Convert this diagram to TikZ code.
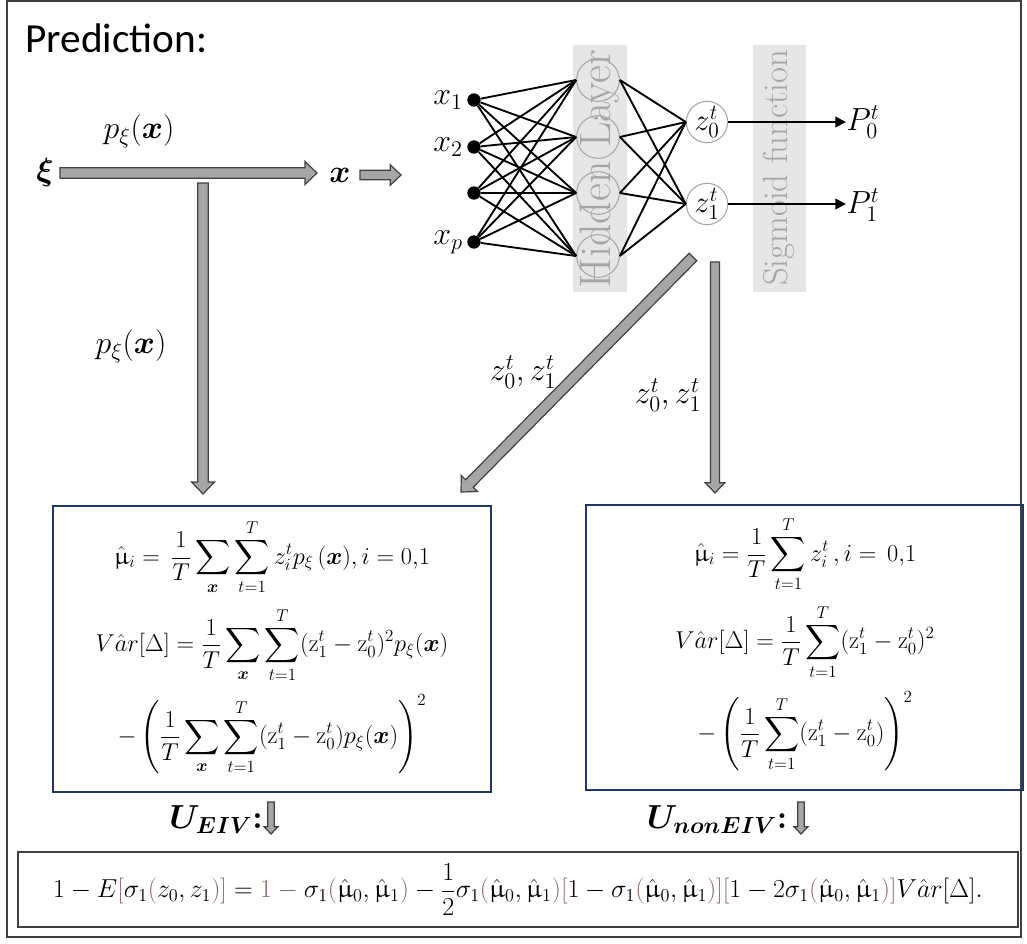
\RequirePackage{fix-cm}
\documentclass[tikz,border=0pt]{standalone}
\usepackage{amsmath,amssymb,bm,upgreek}
\usepackage{fontspec}
\newfontfamily\calib{Carlito}
\usepackage{tikz}
\usetikzlibrary{arrows.meta,calc,positioning}
\definecolor{boxblue}{RGB}{31,56,100}
\definecolor{arrgray}{RGB}{166,166,166}
\definecolor{arrline}{RGB}{64,64,64}
\definecolor{layergray}{RGB}{230,230,230}
\definecolor{textgray}{RGB}{165,165,165}
\definecolor{eqbrown}{RGB}{135,105,98}
\newcommand{\bc}{\color{eqbrown}}
% thick grey block arrow: [scale]{tail}{tip}
\newcommand{\fatarrow}[3][1]{%
  \coordinate (fa) at ($(#3)!#1*9pt!(#2)$);
  \filldraw[fatarr] ($(#2)!#1*4pt!90:(#3)$) -- ($(fa)!#1*4pt!90:(#3)$) -- ($(fa)!#1*8.6pt!90:(#3)$) -- (#3)
    -- ($(fa)!#1*8.6pt!-90:(#3)$) -- ($(fa)!#1*4pt!-90:(#3)$) -- ($(#2)!#1*4pt!-90:(#3)$) -- cycle;}

\begin{document}
\begin{tikzpicture}[x=.75pt,y=-.75pt,
    fatarr/.style={fill=arrgray,draw=arrline,line width=.9pt,line join=miter},
    mathlbl/.style={font=\fontsize{24}{28}\selectfont,inner sep=0pt},
    innode/.style={circle,fill=black,minimum size=10pt,inner sep=0pt},
    hidnode/.style={circle,draw=gray!70,line width=.8pt,minimum size=32pt,inner sep=0pt},
    outnode/.style={circle,draw=gray!70,line width=.8pt,minimum size=31pt,inner sep=0pt,font=\fontsize{23}{26}\selectfont},
    netedge/.style={line width=1.4pt},
    eqbox/.style={draw=boxblue,line width=1.5pt,inner sep=0pt},
    eqtext/.style={align=center,inner sep=0pt,font=\fontsize{18.3}{22}\selectfont},
    ulbl/.style={font=\fontsize{25}{30}\selectfont,inner sep=0pt}]
  \useasboundingbox (0,0) rectangle (1027,943);
  \draw[arrline,line width=1.5pt] (7,1) rectangle (1021,937);
  \node[anchor=base west,inner sep=0pt,font=\calib\fontsize{31}{36}\selectfont] (title) at (25,52) {Prediction:};

  % input distribution
  \node[mathlbl] (xi) at (45,172) {$\bm{\xi}$};
  \node[mathlbl] (x) at (340,175) {$\bm{x}$};
  \node[mathlbl] (pxa) at (139,131) {$p_\xi(\bm{x})$};
  \node[mathlbl] (pxb) at (131,346) {$p_\xi(\bm{x})$};
  \coordinate (xis) at (60,173);  \coordinate (xie) at (317,173);
  \coordinate (pxs) at (203,183); \coordinate (pxe) at (203,494);
  \coordinate (xs) at (360,175);  \coordinate (xe) at (401,175);
  \fatarrow{xis}{xie}
  \fatarrow{pxs}{pxe}
  \fatarrow[.9]{xs}{xe}

  % network
  \fill[layergray] (573,45) rectangle (627,292);
  \fill[layergray] (753,45) rectangle (806,292);
  \node[rotate=90,text=textgray,font=\fontsize{33}{34}\selectfont] (hlbl) at (600,169) {Hidden Layer};
  \node[rotate=90,text=textgray,font=\fontsize{26}{28}\selectfont] (slbl) at (779,168) {Sigmoid function};
  \foreach \i/\y in {1/100,2/147,3/193,4/242} \node[innode] (in\i) at (474,\y) {};
  \foreach \j/\y in {1/80,2/137,3/193,4/256} \node[hidnode] (h\j) at (598,\y) {};
  \node[outnode] (o0) at (707,122) {$z_0^t$};
  \node[outnode] (o1) at (707,204) {$z_1^t$};
  \node[mathlbl,left=3pt of in1] (lx1) {$x_1$};
  \node[mathlbl,left=3pt of in2] (lx2) {$x_2$};
  \node[mathlbl,left=3pt of in4] (lxp) {$x_p$};
  \foreach \i in {1,...,4} \foreach \j in {1,...,4} \draw[netedge] (in\i) -- (h\j.west);
  \foreach \j in {1,...,4} \foreach \k in {0,1} \draw[netedge] (h\j.east) -- (o\k.west);
  \node[mathlbl,anchor=west] (p0) at (846,122) {$P_0^t$};
  \node[mathlbl,anchor=west] (p1) at (846,205) {$P_1^t$};
  \draw[netedge,-{Triangle[length=8pt,width=8pt]}] (o0) -- (o0 -| p0.west);
  \draw[netedge,-{Triangle[length=8pt,width=8pt]}] (o1) -- (o1 -| p1.west);

  % outputs to the estimators
  \coordinate (da) at (693,257); \coordinate (db) at (461,492);
  \coordinate (va) at (715,262); \coordinate (vb) at (715,493);
  \fatarrow{da}{db}
  \fatarrow[.85]{va}{vb}
  \node[mathlbl] (zl) at (523,372) {$z_0^t,z_1^t$};
  \node[mathlbl] (zr) at (668,395) {$z_0^t,z_1^t$};

  % estimator boxes
  \node[eqbox,minimum width=328.5pt,minimum height=214.5pt] (lbox) at (272,649) {};
  \node[eqbox,minimum width=327.8pt,minimum height=213.8pt] (rbox) at (804.5,647.5) {};
  \node[eqtext] (ltxt) at (272,647) {%
    $\displaystyle \hat{\upmu}_i =\, \frac{1}{T}\sum_{\bm{x}}\sum_{t=1}^{T} z_i^t p_\xi\,(\bm{x}), i = 0{,}1$\\[8pt]
    $\displaystyle V\hat{a}r[\Delta] = \frac{1}{T}\sum_{\bm{x}}\sum_{t=1}^{T}(\mathrm{z}_1^t-\mathrm{z}_0^t)^2p_\xi(\bm{x})$\\[8pt]
    $\displaystyle -\left(\frac{1}{T}\sum_{\bm{x}}\sum_{t=1}^{T}(\mathrm{z}_1^t-\mathrm{z}_0^t)p_\xi(\bm{x})\right)^2$};
  \node[eqtext] (rtxt) at (805,644) {%
    $\displaystyle \hat{\upmu}_i = \frac{1}{T}\sum_{t=1}^{T} z_i^t\,, i =\, 0{,}1$\\[8pt]
    $\displaystyle V\hat{a}r[\Delta] = \frac{1}{T}\sum_{t=1}^{T}(\mathrm{z}_1^t-\mathrm{z}_0^t)^2$\\[8pt]
    $\displaystyle -\left(\frac{1}{T}\sum_{t=1}^{T}(\mathrm{z}_1^t-\mathrm{z}_0^t)\right)^2$};

  % utilities
  \node[ulbl] (ueiv) at (216,820) {$\bm{U_{EIV}}$\textbf{:}};
  \node[ulbl] (unon) at (717,820) {$\bm{U_{nonEIV}}$\textbf{:}};
  \coordinate (ea) at (271,802); \coordinate (eb) at (271,834);
  \coordinate (na) at (801,802); \coordinate (nb) at (801,834);
  \fatarrow[.6]{ea}{eb}
  \fatarrow[.6]{na}{nb}
  \node[draw=arrline,line width=1.2pt,minimum width=750pt,minimum height=56pt,inner sep=0pt] (fbox) at (518,889.5) {};
  \node[inner sep=0pt,font=\fontsize{19.5}{23}\selectfont] (ftxt) at (518,889.5) {%
    $1-E{\bc[}\sigma_1{\bc(}z_0,z_1{\bc)]} = {\bc 1-{}}\sigma_1{\bc(}\hat{\upmu}_0,\hat{\upmu}_1{\bc)} - \dfrac{1}{2}\sigma_1{\bc(}\hat{\upmu}_0,\hat{\upmu}_1{\bc)[}1-\sigma_1{\bc(}\hat{\upmu}_0,\hat{\upmu}_1{\bc)][}1-2\sigma_1{\bc(}\hat{\upmu}_0,\hat{\upmu}_1{\bc)]}V\hat{a}r[\Delta].$};
\end{tikzpicture}
\end{document}
